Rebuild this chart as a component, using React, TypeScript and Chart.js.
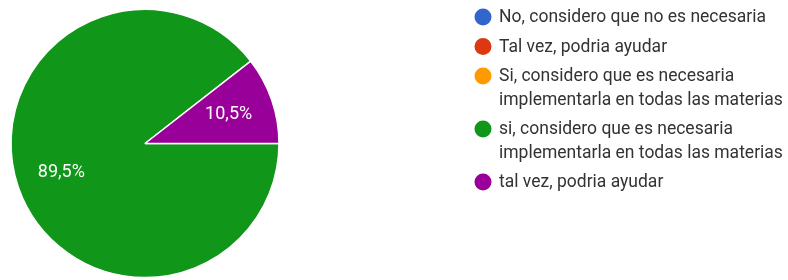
import React, { useEffect, useRef } from "react";
import { Chart, registerables } from "chart.js";

Chart.register(...registerables);

const categories = [
  "No, considero que no es necesaria",
  "Tal vez, podria ayudar",
  "Si, considero que es necesaria implementarla en todas las materias",
  "si, considero que es necesaria implementarla en todas las materias",
  "tal vez, podria ayudar",
];
const counts = [0, 0, 0, 17, 2];
const colors = ["#3366cc", "#dc3912", "#ff9900", "#109618", "#990099"];

const FONT = "Roboto, 'Liberation Sans', Arial, sans-serif";

const piePlugin = {
  id: "pieExtras",
  afterDraw(chart: any) {
    const ctx = chart.ctx;
    const meta = chart.getDatasetMeta(0);
    const data = chart.data.datasets[0].data as number[];
    const total = data.reduce((a, b) => a + b, 0);
    ctx.save();
    // slice labels
    ctx.fillStyle = "#ffffff";
    ctx.font = `18px ${FONT}`;
    ctx.textAlign = "center";
    ctx.textBaseline = "middle";
    meta.data.forEach((arc: any, i: number) => {
      const v = data[i];
      if (!v) return;
      const p = arc.getProps(["x", "y", "startAngle", "endAngle", "outerRadius"], true);
      const mid = (p.startAngle + p.endAngle) / 2;
      const r = p.outerRadius * 0.66;
      const pct = ((v / total) * 100).toFixed(1).replace(".", ",") + "%";
      ctx.fillText(pct, p.x + Math.cos(mid) * r, p.y + Math.sin(mid) * r);
    });
    // legend
    const labels = chart.data.labels as string[];
    const bg = chart.data.datasets[0].backgroundColor as string[];
    const lx = 483;
    const tx = 499;
    const maxW = 300;
    const lineH = 23.5;
    const itemGap = 29.5;
    ctx.font = `17.5px ${FONT}`;
    ctx.textAlign = "left";
    let y = 17;
    labels.forEach((lab, i) => {
      const words = lab.split(" ");
      const lines: string[] = [];
      let cur = "";
      words.forEach((w) => {
        const t = cur ? cur + " " + w : w;
        if (ctx.measureText(t).width > maxW && cur) {
          lines.push(cur);
          cur = w;
        } else cur = t;
      });
      if (cur) lines.push(cur);
      ctx.fillStyle = bg[i];
      ctx.beginPath();
      ctx.arc(lx, y, 8.5, 0, Math.PI * 2);
      ctx.fill();
      ctx.fillStyle = "#333333";
      lines.forEach((ln, j) => {
        ctx.fillText(ln, tx, y + j * lineH + 1);
      });
      y += (lines.length - 1) * lineH + itemGap;
    });
    ctx.restore();
  },
};

export default function App() {
  const ref = useRef<HTMLCanvasElement>(null);
  useEffect(() => {
    if (!ref.current) return;
    const chart = new Chart(ref.current, {
      type: "pie",
      data: {
        labels: categories,
        datasets: [
          {
            data: counts,
            backgroundColor: colors,
            borderColor: "#ffffff",
            borderWidth: 1.5,
          },
        ],
      },
      options: {
        animation: false,
        responsive: false,
        rotation: 90,
        radius: 134,
        layout: { padding: { left: 11, right: 509, top: 9, bottom: 2 } },
        plugins: {
          legend: { display: false },
          tooltip: { enabled: false },
        },
      },
      plugins: [piePlugin],
    });
    return () => chart.destroy();
  }, []);
  return (
    <div style={{ position: "fixed", left: 0, top: 0, width: 788, height: 280, background: "#fff" }}>
      <canvas ref={ref} width={788} height={280} style={{ width: 788, height: 280 }} />
    </div>
  );
}
